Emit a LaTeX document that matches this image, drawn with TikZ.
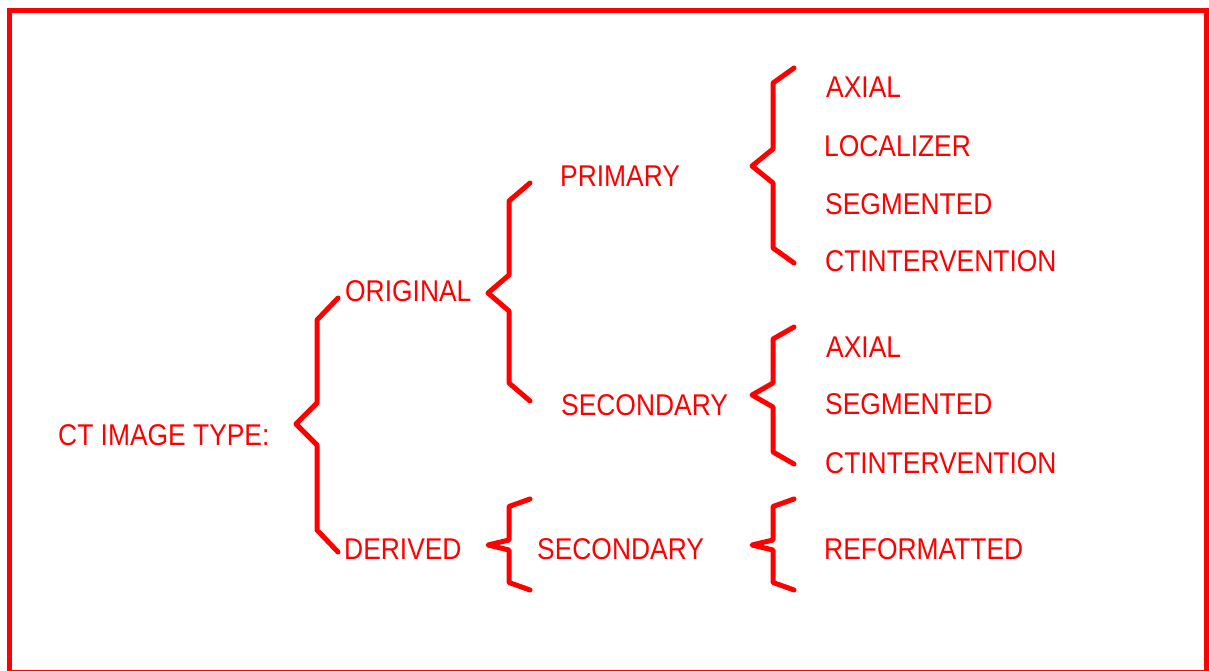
\documentclass[tikz,border=0pt]{standalone}
\usepackage{fontspec}
\setmainfont{Liberation Sans}[FakeStretch=0.88]
\usetikzlibrary{positioning}
\newcommand\levelbrace[6]{% x, top, end drop, tip, tip drop, bottom
  (#1+21,#2) -- (#1,#2+#3) -- (#1,#4-#5) -- (#1-21,#4)
  -- (#1,#4+#5) -- (#1,#6-#3) -- (#1+21,#6)
}
\tikzset{
    % Define text style
    kind/.style={
           anchor=base west,
           inner sep=0pt,
           text=red,
           font=\fontsize{30}{36}\selectfont,
           },
    % Define brace style
    bracket/.style={
           draw=red,
           line width=5pt,
           line cap=round,
           line join=round,
           }
}
\begin{document}
\begin{tikzpicture}[x=1pt,y=-1pt]
  	\useasboundingbox (0,0) rectangle (1209,671);
  	\draw[red, line width=5pt] (9.5,10.5) rectangle (1206.5,672.5);
  	\node (root) at (58,445) [kind] {CT IMAGE TYPE:};
  	\node (orig) at (345,301) [kind] {ORIGINAL};
  	\node (deriv) at (344,559) [kind] {DERIVED};
  	\node (prim) at (560,186) [kind] {PRIMARY};
  	\node (secup) at (561,415) [kind] {SECONDARY};
  	\node (seclow) at (537,559) [kind] {SECONDARY};
  	\node (axiala) at (826,98) [kind] {AXIAL};
  	\node (locala) at (824,157) [kind] {LOCALIZER};
  	\node (segma) at (825,214) [kind] {SEGMENTED};
  	\node (ctinta) at (825,271) [kind] {CTINTERVENTION};
  	\node (axialb) at (826,357) [kind] {AXIAL};
  	\node (segmb) at (825,414) [kind] {SEGMENTED};
  	\node (ctintb) at (825,473) [kind] {CTINTERVENTION};
  	\node (reform) at (824,559) [kind] {REFORMATTED};
%  	braces between the levels
  	\draw[bracket] \levelbrace{317}{298}{22}{424}{21}{552};
  	\draw[bracket] \levelbrace{509}{183}{18}{293}{18}{401};
  	\draw[bracket] \levelbrace{773}{68}{15}{166}{17}{263};
  	\draw[bracket] \levelbrace{773}{327}{12}{395}{12}{464};
  	\draw[bracket] \levelbrace{509}{499}{7.5}{545}{5}{590};
  	\draw[bracket] \levelbrace{773}{499}{7.5}{545}{5}{590};
\end{tikzpicture}
\end{document}
